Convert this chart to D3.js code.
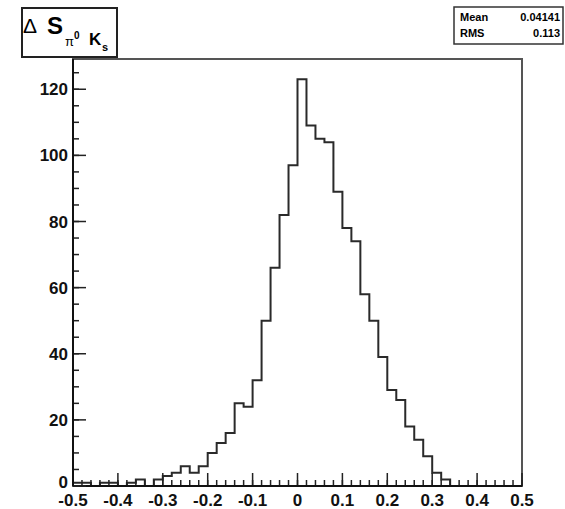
<!DOCTYPE html>
<html>
<head>
<meta charset="utf-8">
<script src="https://cdn.jsdelivr.net/npm/d3@7"></script>
<style>
  html, body { margin: 0; padding: 0; background: #fff; }
  svg { display: block; }
  text { font-family: "Liberation Sans", Arial, sans-serif; }
</style>
</head>
<body>
<svg id="chart" width="565" height="509"></svg>
<script>
// Delta S histogram, 50 bins from -0.5 to 0.5 (ROOT style)

const BIN_LOW = -0.5;
const BIN_WIDTH = 0.02;
const COUNTS = [
  1, 1, 0, 1, 1, 0, 1, 2, 0, 2,
  3, 4, 6, 4, 6, 10, 13, 16, 25, 24,
  32, 50, 66, 82, 97, 123, 109, 105, 104, 89,
  78, 74, 58, 50, 39, 29, 26, 18, 14, 9,
  4, 2, 0, 0, 0, 0, 0, 0, 0, 0,
];
const X_TICKS = [-0.5, -0.4, -0.3, -0.2, -0.1, 0, 0.1, 0.2, 0.3, 0.4, 0.5];
const X_TICK_LABELS = ["-0.5", "-0.4", "-0.3", "-0.2", "-0.1", "0", "0.1", "0.2", "0.3", "0.4", "0.5"];
const Y_TICKS = [0, 20, 40, 60, 80, 100, 120];
const STATS = [["Mean", "0.04141"], ["RMS", "0.113"]];

const svg = d3.select("#chart");
const frame = { left: 73, right: 522, top: 59, bottom: 486 };

const yMax = d3.max(COUNTS) * 1.05;
const x = d3.scaleLinear().domain([-0.5, 0.5]).range([frame.left, frame.right]);
const y = d3.scaleLinear().domain([0, yMax]).range([frame.bottom, frame.top]);

// frame (top and right edges grey like the original)
svg.append("rect")
  .attr("x", frame.left).attr("y", frame.top)
  .attr("width", frame.right - frame.left).attr("height", frame.bottom - frame.top)
  .attr("fill", "none").attr("stroke", "#555").attr("stroke-width", 2);

// histogram outline
const pts = [[BIN_LOW, 0]];
COUNTS.forEach((c, i) => {
  const lo = BIN_LOW + i * BIN_WIDTH;
  pts.push([lo, c], [lo + BIN_WIDTH, c]);
});
pts.push([0.5, 0]);
svg.append("path")
  .attr("d", d3.line().x(d => x(d[0])).y(d => y(d[1]))(pts))
  .attr("fill", "none").attr("stroke", "#2a2a2a").attr("stroke-width", 2);

// x axis: major 0.1, minor 0.02
const xMinor = d3.range(0, 51).map(i => -0.5 + i * 0.02);
const xAxisG = svg.append("g");
xAxisG.selectAll("line.minor").data(xMinor).enter().append("line")
  .attr("x1", d => x(d)).attr("x2", d => x(d))
  .attr("y1", frame.bottom).attr("y2", frame.bottom - 6)
  .attr("stroke", "#222").attr("stroke-width", 1.5);
xAxisG.selectAll("line.major").data(X_TICKS).enter().append("line")
  .attr("x1", d => x(d)).attr("x2", d => x(d))
  .attr("y1", frame.bottom).attr("y2", frame.bottom - 13)
  .attr("stroke", "#222").attr("stroke-width", 1.5);
xAxisG.selectAll("text").data(X_TICKS).enter().append("text")
  .attr("x", d => x(d)).attr("y", 506)
  .attr("text-anchor", "middle")
  .attr("font-size", 17).attr("font-weight", "bold").attr("fill", "#111")
  .text((d, i) => X_TICK_LABELS[i]);
xAxisG.append("line")
  .attr("x1", frame.left).attr("x2", frame.right)
  .attr("y1", frame.bottom).attr("y2", frame.bottom)
  .attr("stroke", "#111").attr("stroke-width", 2);

// y axis: major 20, minor 5
const yMinor = d3.range(0, 26).map(i => i * 5);
const yAxisG = svg.append("g");
yAxisG.selectAll("line.minor").data(yMinor).enter().append("line")
  .attr("x1", frame.left).attr("x2", frame.left + 6)
  .attr("y1", d => y(d)).attr("y2", d => y(d))
  .attr("stroke", "#222").attr("stroke-width", 1.5);
yAxisG.selectAll("line.major").data(Y_TICKS).enter().append("line")
  .attr("x1", frame.left).attr("x2", frame.left + 13)
  .attr("y1", d => y(d)).attr("y2", d => y(d))
  .attr("stroke", "#222").attr("stroke-width", 1.5);
yAxisG.selectAll("text").data(Y_TICKS).enter().append("text")
  .attr("x", 68).attr("y", d => y(d) + (d === 0 ? 2 : 6))
  .attr("text-anchor", "end")
  .attr("font-size", 17).attr("font-weight", "bold").attr("fill", "#111")
  .text(d => d);
yAxisG.append("line")
  .attr("x1", frame.left).attr("x2", frame.left)
  .attr("y1", frame.top).attr("y2", frame.bottom)
  .attr("stroke", "#111").attr("stroke-width", 2);

// title box
const tb = svg.append("g");
tb.append("rect").attr("x", 22).attr("y", 8).attr("width", 95).attr("height", 49)
  .attr("fill", "#fff").attr("stroke", "#222").attr("stroke-width", 2);
tb.append("text").attr("x", 23).attr("y", 33).attr("font-size", 21)
  .attr("font-family", "DejaVu Sans").text("\u0394");
tb.append("text").attr("x", 47).attr("y", 34).attr("font-size", 24)
  .attr("font-weight", "bold").text("S");
tb.append("text").attr("x", 65).attr("y", 46).attr("font-size", 13)
  .attr("font-family", "Liberation Serif").text("\u03c0");
tb.append("text").attr("x", 74).attr("y", 39).attr("font-size", 10)
  .attr("font-weight", "bold").text("0");
tb.append("text").attr("x", 89).attr("y", 45).attr("font-size", 17)
  .attr("font-weight", "bold").text("K");
tb.append("text").attr("x", 102).attr("y", 51).attr("font-size", 11)
  .attr("font-weight", "bold").text("s");

// stats box
const sb = svg.append("g");
sb.append("rect").attr("x", 454).attr("y", 7).attr("width", 109).attr("height", 37)
  .attr("fill", "#fff").attr("stroke", "#333").attr("stroke-width", 1.5);
STATS.forEach((row, i) => {
  sb.append("text").attr("x", 460).attr("y", 21 + i * 16)
    .attr("font-size", 11).attr("font-weight", "bold").text(row[0]);
  sb.append("text").attr("x", 560).attr("y", 21 + i * 16)
    .attr("text-anchor", "end")
    .attr("font-size", 11).attr("font-weight", "bold").text(row[1]);
});
</script>
</body>
</html>
